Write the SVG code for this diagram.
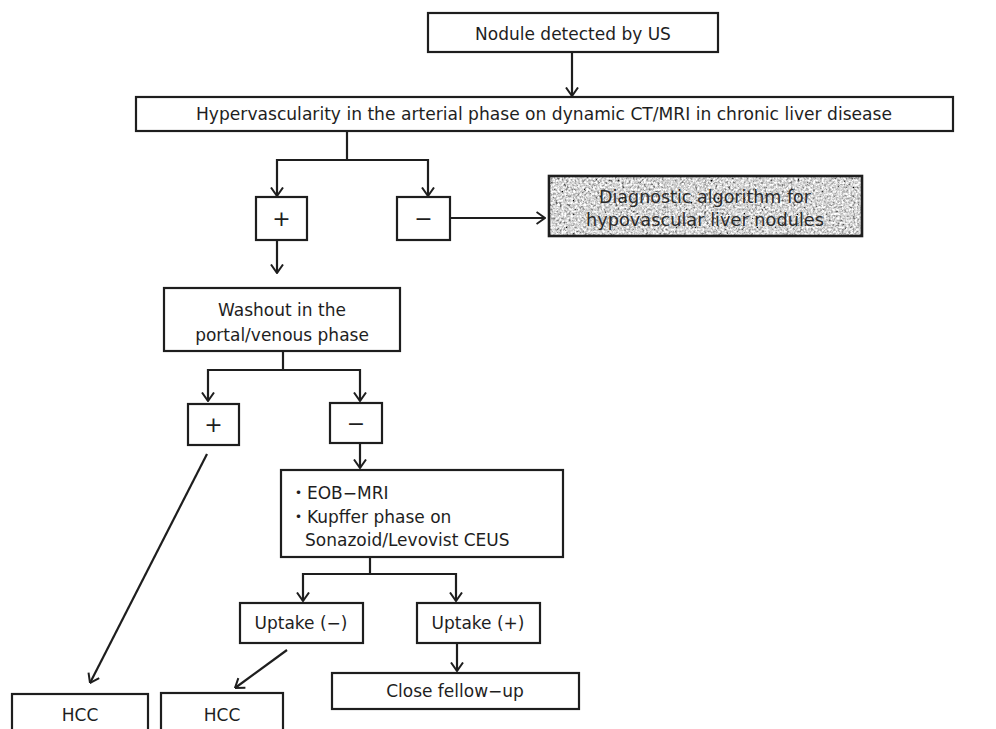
<svg xmlns="http://www.w3.org/2000/svg" width="996" height="729" viewBox="0 0 996 729">
<style>
.box{fill:#fff;stroke:#1e1e1e;stroke-width:2.2}
.t{font-family:"DejaVu Sans","Noto Sans CJK JP",sans-serif;font-size:17px;fill:#1e1e1e}
.c{text-anchor:middle}
.sym{font-family:"DejaVu Sans","Noto Sans CJK JP",sans-serif;font-size:22px;fill:#1e1e1e;text-anchor:middle}
.ln{fill:none;stroke:#1e1e1e;stroke-width:2.2}
.ar{marker-end:url(#ah)}
</style>
<defs>
<marker id="ah" viewBox="0 0 10 14" refX="9.5" refY="7" markerWidth="10" markerHeight="14" markerUnits="userSpaceOnUse" orient="auto">
<path d="M1,1 L9.5,7 L1,13" fill="none" stroke="#1e1e1e" stroke-width="2"/>
</marker>
<filter id="grain" x="0" y="0" width="100%" height="100%">
<feTurbulence type="fractalNoise" baseFrequency="0.45" numOctaves="3" seed="7" result="n"/>
<feColorMatrix in="n" type="matrix" values="0.33 0.33 0.33 0 0  0.33 0.33 0.33 0 0  0.33 0.33 0.33 0 0  0 0 0 0 1" result="g"/>
<feComponentTransfer in="g">
<feFuncR type="linear" slope="3" intercept="-0.82"/>
<feFuncG type="linear" slope="3" intercept="-0.82"/>
<feFuncB type="linear" slope="3" intercept="-0.82"/>
</feComponentTransfer>
</filter>
</defs>
<rect width="996" height="729" fill="#fff"/>

<g id="connectors">
<line class="ln ar" x1="572" y1="52" x2="572" y2="96"/>
<polyline class="ln" points="347,131 347,160"/>
<polyline class="ln ar" points="347,160 277,160 277,196"/>
<polyline class="ln ar" points="347,160 428,160 428,196"/>
<line class="ln ar" x1="450" y1="218" x2="545" y2="218"/>
<line class="ln ar" x1="277" y1="240" x2="277" y2="273"/>
<polyline class="ln" points="283,351 283,370"/>
<polyline class="ln ar" points="283,370 208,370 208,401"/>
<polyline class="ln ar" points="283,370 360,370 360,401"/>
<line class="ln ar" x1="207" y1="454" x2="90" y2="683"/>
<line class="ln ar" x1="360" y1="443" x2="360" y2="468"/>
<polyline class="ln" points="370,557 370,574"/>
<polyline class="ln ar" points="370,574 303,574 303,601"/>
<polyline class="ln ar" points="370,574 456,574 456,601"/>
<line class="ln ar" x1="287" y1="650" x2="235" y2="688"/>
<line class="ln ar" x1="457" y1="643" x2="457" y2="671"/>
</g>

<g id="n-nodule">
<rect class="box" x="428" y="13" width="290" height="39"/>
<text class="t c" x="573" y="40">Nodule detected by US</text>
</g>
<g id="n-hyper">
<rect class="box" x="136" y="97" width="817" height="34"/>
<text class="t c" x="544" y="120" textLength="696" lengthAdjust="spacingAndGlyphs">Hypervascularity in the arterial phase on dynamic CT/MRI in chronic liver disease</text>
</g>
<g id="n-plus1">
<rect class="box" x="256" y="197" width="51" height="43"/>
<text class="sym" x="281.5" y="226">+</text>
</g>
<g id="n-minus1">
<rect class="box" x="397" y="197" width="53" height="43"/>
<text class="sym" x="423.5" y="226">−</text>
</g>
<g id="n-diag">
<rect x="549" y="176" width="313" height="60" fill="#aaa" filter="url(#grain)"/>
<rect x="549" y="176" width="313" height="60" fill="none" stroke="#1e1e1e" stroke-width="2.6"/>
<text class="t c" x="705" y="203" textLength="212" lengthAdjust="spacingAndGlyphs" style="fill:#2a2a2a">Diagnostic algorithm for</text>
<text class="t c" x="705" y="226" textLength="238" lengthAdjust="spacingAndGlyphs" style="fill:#2a2a2a">hypovascular liver nodules</text>
</g>
<g id="n-washout">
<rect class="box" x="164" y="288" width="236" height="63"/>
<text class="t c" x="282" y="316">Washout in the</text>
<text class="t c" x="282" y="341">portal/venous phase</text>
</g>
<g id="n-plus2">
<rect class="box" x="188" y="404" width="51" height="41"/>
<text class="sym" x="213.5" y="432">+</text>
</g>
<g id="n-minus2">
<rect class="box" x="330" y="403" width="52" height="40"/>
<text class="sym" x="356" y="431">−</text>
</g>
<g id="n-eob">
<rect class="box" x="281" y="470" width="282" height="87"/>
<text class="t" x="290" y="499">・EOB−MRI</text>
<text class="t" x="290" y="523">・Kupffer phase on</text>
<text class="t" x="305" y="546">Sonazoid/Levovist CEUS</text>
</g>
<g id="n-upneg">
<rect class="box" x="240" y="603" width="123" height="40"/>
<text class="t c" x="301" y="629">Uptake (−)</text>
</g>
<g id="n-uppos">
<rect class="box" x="417" y="603" width="123" height="40"/>
<text class="t c" x="478" y="629">Uptake (+)</text>
</g>
<g id="n-close">
<rect class="box" x="332" y="673" width="247" height="36"/>
<text class="t c" x="455" y="697">Close fellow−up</text>
</g>
<g id="n-hcc1">
<rect class="box" x="12" y="694" width="136" height="50"/>
<text class="t c" x="80" y="721">HCC</text>
</g>
<g id="n-hcc2">
<rect class="box" x="161" y="693" width="122" height="50"/>
<text class="t c" x="222" y="721">HCC</text>
</g>
</svg>
